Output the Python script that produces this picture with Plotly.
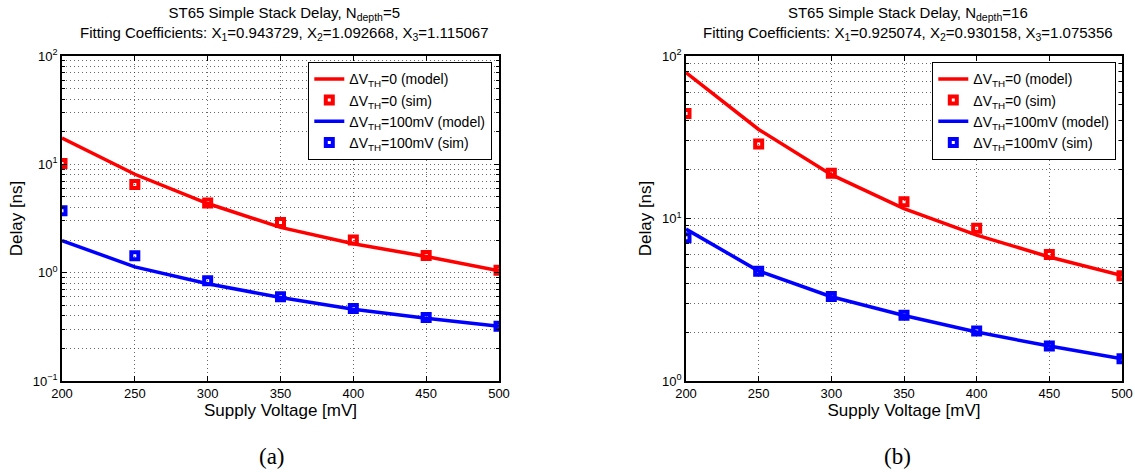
import plotly.graph_objects as go

# ---- data ----
vdd = [200, 250, 300, 350, 400, 450, 500]

# (a) N_depth = 5
a_model_0 = [17.5, 8.1, 4.35, 2.62, 1.85, 1.41, 1.04]
a_sim_0 = [10.2, 6.5, 4.4, 2.91, 2.0, 1.44, 1.05]
a_model_100 = [1.98, 1.13, 0.79, 0.59, 0.46, 0.38, 0.32]
a_sim_100 = [3.73, 1.43, 0.84, 0.60, 0.466, 0.385, 0.32]

# (b) N_depth = 16
b_model_0 = [79.0, 35.3, 18.6, 11.5, 7.9, 5.8, 4.45]
b_sim_0 = [44.3, 28.7, 19.0, 12.7, 8.7, 6.0, 4.45]
b_model_100 = [8.6, 4.75, 3.3, 2.53, 2.0, 1.64, 1.37]
b_sim_100 = [7.6, 4.73, 3.31, 2.54, 2.03, 1.64, 1.37]

titles = [
    "ST65 Simple Stack Delay, N<sub>depth</sub>=5<br>Fitting Coefficients: X<sub>1</sub>=0.943729, X<sub>2</sub>=1.092668, X<sub>3</sub>=1.115067",
    "ST65 Simple Stack Delay, N<sub>depth</sub>=16<br>Fitting Coefficients: X<sub>1</sub>=0.925074, X<sub>2</sub>=0.930158, X<sub>3</sub>=1.075356",
]
captions = ["(a)", "(b)"]
legend_names = [
    "ΔV<sub>TH</sub>=0 (model)",
    "ΔV<sub>TH</sub>=0 (sim)",
    "ΔV<sub>TH</sub>=100mV (model)",
    "ΔV<sub>TH</sub>=100mV (sim)",
]
x_ticks = [200, 250, 300, 350, 400, 450, 500]
y_ticks_a = [0.1, 1, 10, 100]
y_text_a = ["10<sup>−1</sup>", "10<sup>0</sup>", "10<sup>1</sup>", "10<sup>2</sup>"]
y_ticks_b = [1, 10, 100]
y_text_b = ["10<sup>0</sup>", "10<sup>1</sup>", "10<sup>2</sup>"]

RED = "#FF0000"
BLUE = "#0000FF"
FONT = "Arial"
W, H = 1135, 473

fig = go.Figure()

def add_panel(xa, ya, leg, m0, s0, m1, s1):
    fig.add_trace(go.Scatter(x=vdd, y=m0, mode="lines", name=legend_names[0],
                             line=dict(color=RED, width=3.5), xaxis=xa, yaxis=ya, legend=leg))
    fig.add_trace(go.Scatter(x=vdd, y=s0, mode="markers", name=legend_names[1],
                             marker=dict(symbol="square-open", color=RED, size=7,
                                         line=dict(width=4, color=RED)),
                             xaxis=xa, yaxis=ya, legend=leg))
    fig.add_trace(go.Scatter(x=vdd, y=m1, mode="lines", name=legend_names[2],
                             line=dict(color=BLUE, width=3.5), xaxis=xa, yaxis=ya, legend=leg))
    fig.add_trace(go.Scatter(x=vdd, y=s1, mode="markers", name=legend_names[3],
                             marker=dict(symbol="square-open", color=BLUE, size=7,
                                         line=dict(width=4, color=BLUE)),
                             xaxis=xa, yaxis=ya, legend=leg))

add_panel("x", "y", "legend", a_model_0, a_sim_0, a_model_100, a_sim_100)
add_panel("x2", "y2", "legend2", b_model_0, b_sim_0, b_model_100, b_sim_100)

def px_x(p):
    return p / W

def px_y(p):
    return 1 - p / H

grid_col = "rgba(40,40,40,0.7)"
minor_vals = []
for dec in [0.1, 1, 10]:
    for k in range(2, 10):
        minor_vals.append(round(k * dec, 4))

common_x = dict(
    range=[200, 500], tickmode="array", tickvals=x_ticks,
    ticks="inside", ticklen=5, tickcolor="black", tickwidth=1,
    showline=True, linecolor="black", linewidth=1.5, mirror="allticks",
    showgrid=True, gridcolor=grid_col, griddash="1px,3px", gridwidth=1,
    zeroline=False, automargin=False,
    tickfont=dict(family=FONT, size=13, color="black"),
    title=dict(text="Supply Voltage [mV]", font=dict(family=FONT, size=17, color="black"), standoff=2),
)
common_y = dict(
    type="log", ticks="inside", ticklen=5, tickcolor="black", tickwidth=1,
    showline=True, linecolor="black", linewidth=1.5, mirror="allticks",
    showgrid=True, gridcolor=grid_col, griddash="1px,3px", gridwidth=1,
    zeroline=False, automargin=False,
    tickfont=dict(family=FONT, size=13, color="black"),
    minor=dict(tickmode="array", tickvals=minor_vals, ticks="inside", ticklen=3,
               tickcolor="black", showgrid=True, gridcolor=grid_col,
               griddash="1px,3px", gridwidth=1),
    title=dict(text="Delay [ns]", font=dict(family=FONT, size=17, color="black"), standoff=6),
)

ydom = [px_y(381), px_y(56)]
fig.update_layout(
    width=W, height=H,
    margin=dict(l=0, r=0, t=0, b=0),
    paper_bgcolor="white", plot_bgcolor="white",
    font=dict(family=FONT, color="black"),
    template="none",
    xaxis=dict(domain=[px_x(62), px_x(499)], anchor="y", **common_x),
    yaxis=dict(domain=ydom, anchor="x", range=[-1, 2], tickmode="array",
               tickvals=y_ticks_a, ticktext=y_text_a, **common_y),
    xaxis2=dict(domain=[px_x(686), px_x(1122)], anchor="y2", **common_x),
    yaxis2=dict(domain=ydom, anchor="x2", range=[0, 2], tickmode="array",
                tickvals=y_ticks_b, ticktext=y_text_b, **common_y),
    legend=dict(x=px_x(492), y=px_y(62), xanchor="right", yanchor="top",
                bgcolor="white", bordercolor="black", borderwidth=1.3,
                font=dict(family=FONT, size=14, color="black"), tracegroupgap=0),
    legend2=dict(x=px_x(1116), y=px_y(62), xanchor="right", yanchor="top",
                 bgcolor="white", bordercolor="black", borderwidth=1.3,
                 font=dict(family=FONT, size=14, color="black"), tracegroupgap=0),
    showlegend=True,
)

centers = [(62 + 499) / 2, (686 + 1122) / 2]
cap_x = [272, 897]
for i in range(2):
    fig.add_annotation(text=titles[i], x=px_x(centers[i] + 4), y=px_y(2),
                       xref="paper", yref="paper", xanchor="center", yanchor="top",
                       showarrow=False, align="center",
                       font=dict(family=FONT, size=15, color="black"))
    fig.add_annotation(text=captions[i], x=px_x(cap_x[i]), y=px_y(456),
                       xref="paper", yref="paper", xanchor="center", yanchor="middle",
                       showarrow=False,
                       font=dict(family="Liberation Serif, serif", size=23, color="black"))

fig.write_html("out.html")
